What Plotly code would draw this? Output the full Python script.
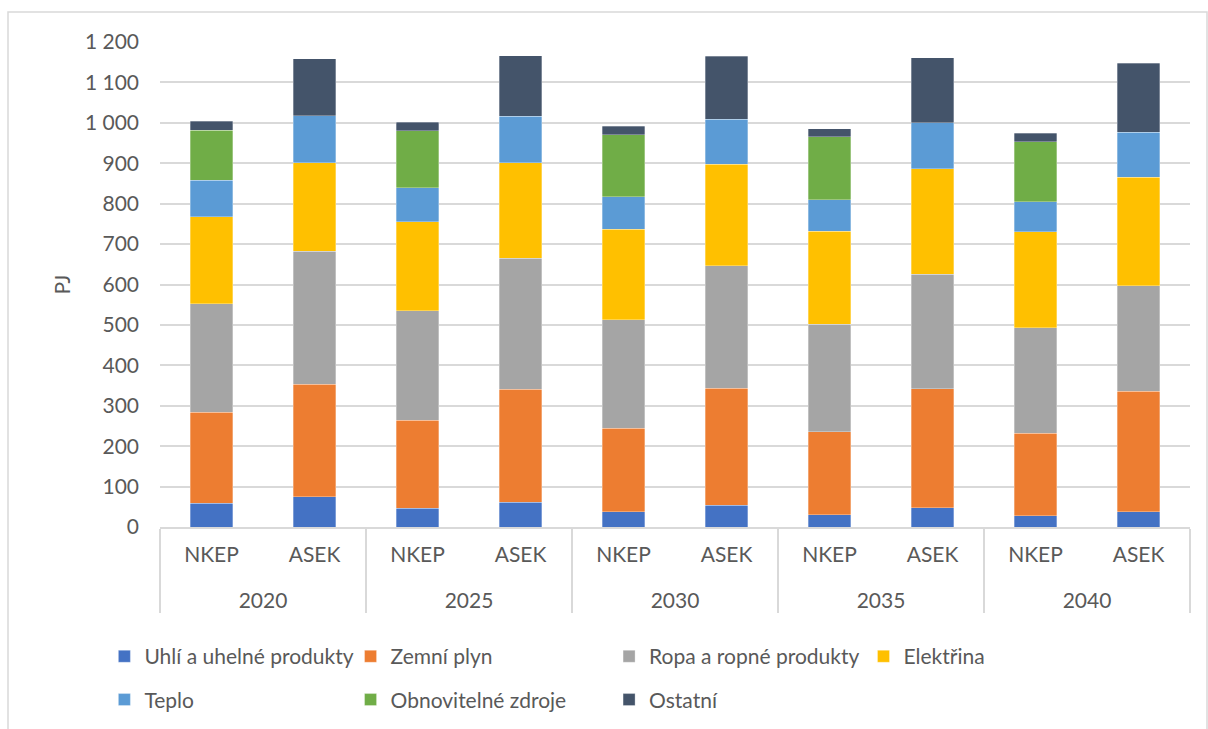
import plotly.graph_objects as go

# Scenario years and variants (NKEP / ASEK) for each year
years = ["2020", "2025", "2030", "2035", "2040"]
scenarios = ["NKEP", "ASEK"]

# Final energy consumption by carrier, PJ (order: NKEP, ASEK per year)
uhli = [59, 75, 46, 61, 38, 54, 30, 48, 28, 38]
zemni_plyn = [225, 278, 218, 280, 206, 289, 206, 294, 204, 298]
ropa = [269, 329, 271, 324, 269, 304, 266, 283, 261, 261]
elektrina = [215, 219, 220, 236, 224, 250, 230, 261, 237, 268]
teplo = [90, 117, 85, 115, 80, 112, 78, 114, 75, 112]
obnovitelne = [124, None, 140, None, 154, None, 155, None, 148, None]
ostatni = [22, 140, 21, 150, 21, 156, 20, 161, 21, 170]

series = [
    ("Uhlí a uhelné produkty", uhli, "#4472C4", "legend"),
    ("Zemní plyn", zemni_plyn, "#ED7D31", "legend2"),
    ("Ropa a ropné produkty", ropa, "#A5A5A5", "legend3"),
    ("Elektřina", elektrina, "#FFC000", "legend4"),
    ("Teplo", teplo, "#5B9BD5", "legend"),
    ("Obnovitelné zdroje", obnovitelne, "#70AD47", "legend2"),
    ("Ostatní", ostatni, "#44546A", "legend3"),
]

# outer (year) labels sit one line lower, leaving room below the scenario names
x_outer = ["<br>" + y for y in years for _ in scenarios]
x_inner = [s for _ in years for s in scenarios]

FONT = "Lato"
TXT = "#595959"
GRID = "#D9D9D9"

fig = go.Figure()
for name, vals, color, leg in series:
    fig.add_trace(go.Bar(
        x=[x_outer, x_inner],
        y=vals,
        name=name,
        legend=leg,
        legendgroup=name,
        marker=dict(color=color, line=dict(color="rgba(255,255,255,0.5)", width=0.6)),
    ))

legend_style = dict(
    orientation="v",
    yanchor="top",
    y=-0.225,
    xanchor="left",
    font=dict(family=FONT, size=21, color=TXT),
    bgcolor="rgba(0,0,0,0)",
    tracegroupgap=13,
    traceorder="grouped",
    itemclick=False,
)

fig.update_layout(
    width=1208,
    height=729,
    margin=dict(l=160, r=18, t=42, b=202, autoexpand=False),
    paper_bgcolor="white",
    plot_bgcolor="white",
    barmode="stack",
    bargap=0.59,
    separators=", ",
    font=dict(family=FONT, size=21, color=TXT),
    showlegend=True,
    legend=dict(legend_style, x=-0.054),
    legend2=dict(legend_style, x=0.185),
    legend3=dict(legend_style, x=0.436),
    legend4=dict(legend_style, x=0.683),
    xaxis=dict(
        type="multicategory",
        showline=True,
        linecolor=GRID,
        linewidth=1.5,
        showdividers=True,
        dividercolor=GRID,
        dividerwidth=1.5,
        ticklabelstandoff=8,
        tickfont=dict(family=FONT, size=21, color=TXT),
        showgrid=False,
    ),
    yaxis=dict(
        range=[0, 1200],
        dtick=100,
        tickformat=",d",
        showgrid=True,
        gridcolor=GRID,
        gridwidth=1.5,
        zeroline=False,
        ticks="",
        ticklabelstandoff=20,
        tickfont=dict(family=FONT, size=21, color=TXT),
        title=dict(text="PJ", font=dict(family=FONT, size=21, color=TXT), standoff=8),
    ),
    shapes=[
        dict(type="rect", xref="paper", yref="paper",
             x0=(8 - 160) / 1030, x1=(1207 - 160) / 1030,
             y0=(527 - 740) / 485, y1=(527 - 12) / 485,
             line=dict(color=GRID, width=1.5), fillcolor="rgba(0,0,0,0)", layer="below"),
    ],
)

fig.write_html("out.html")
